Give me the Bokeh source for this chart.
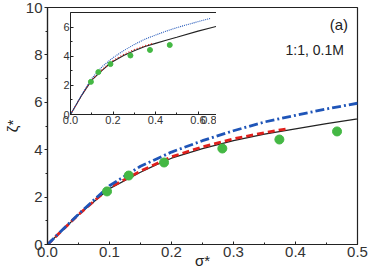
from bokeh.plotting import figure
from bokeh.models import Label, PrintfTickFormatter, FixedTicker, Range1d
from bokeh.layouts import column
from bokeh.embed import file_html
from bokeh.resources import INLINE

# ---- data ----
sigma_black = [0, 0.05, 0.1, 0.15, 0.175, 0.2, 0.25, 0.3, 0.35, 0.4, 0.45, 0.5, 0.6, 0.7, 0.8]
zeta_black = [0, 1.25, 2.36, 3.05, 3.36, 3.64, 4.05, 4.38, 4.66, 4.88, 5.1, 5.3, 5.72, 6.1, 6.45]

sigma_blue = [0, 0.05, 0.1, 0.15, 0.175, 0.2, 0.25, 0.3, 0.35, 0.4, 0.45, 0.5, 0.55, 0.6, 0.66]
zeta_blue = [0, 1.28, 2.48, 3.3, 3.6, 3.9, 4.38, 4.8, 5.17, 5.45, 5.72, 5.96, 6.17, 6.37, 6.6]

sigma_red = [0, 0.05, 0.1, 0.15, 0.2, 0.25, 0.3, 0.35, 0.39]
zeta_red = [0, 1.26, 2.4, 3.1, 3.7, 4.12, 4.46, 4.72, 4.9]

sigma_pts = [0.096, 0.131, 0.188, 0.282, 0.374, 0.467]
zeta_pts = [2.24, 2.91, 3.46, 4.05, 4.43, 4.77]

main_xticks = [0.0, 0.1, 0.2, 0.3, 0.4, 0.5]
main_yticks = [0, 2, 4, 6, 8, 10]
inset_xticks = [0.0, 0.2, 0.4, 0.6, 0.8]
inset_yticks = [0, 2, 4, 6]

FONT = "Liberation Sans"
BLACK = "#222222"
BLUE = "#1f55b8"
RED = "#e0201c"
GREEN = "#44b844"


def style_axes(fig, font_size, xfmt):
    for ax in (fig.xaxis[0], fig.yaxis[0]):
        ax.axis_line_color = BLACK
        ax.major_tick_line_color = BLACK
        ax.minor_tick_line_color = BLACK
        ax.major_label_text_font = FONT
        ax.major_label_text_font_size = font_size
        ax.major_label_text_color = "#333333"
    fig.xaxis[0].formatter = PrintfTickFormatter(format=xfmt)
    fig.yaxis[0].formatter = PrintfTickFormatter(format="%d")


# ---- main figure ----
main = figure(width=368, height=271, x_range=Range1d(0, 0.5), y_range=Range1d(0, 10),
              output_backend="svg", toolbar_location=None,
              x_axis_label="σ*", y_axis_label="ζ*",
              min_border_left=41, min_border_right=10, min_border_top=7, min_border_bottom=27)
main.grid.visible = False
main.outline_line_color = BLACK
main.outline_line_width = 1.2
main.background_fill_color = "white"
style_axes(main, "15px", "%.1f")
for ax in (main.xaxis[0], main.yaxis[0]):
    ax.axis_label_text_font = FONT
    ax.axis_label_text_font_size = "15px"
    ax.axis_label_text_font_style = "normal"
    ax.axis_label_text_color = "#222222"
main.xaxis.axis_label_standoff = -8
main.yaxis.axis_label_standoff = 2
main.xaxis.ticker = FixedTicker(ticks=main_xticks, minor_ticks=[0.05, 0.15, 0.25, 0.35, 0.45])
main.yaxis.ticker = FixedTicker(ticks=main_yticks, minor_ticks=[1, 3, 5, 7, 9])
main.xaxis.major_tick_in = 3
main.xaxis.major_tick_out = 0
main.xaxis.minor_tick_in = 2
main.xaxis.minor_tick_out = 0
main.yaxis.major_tick_in = 0
main.yaxis.major_tick_out = 3
main.yaxis.minor_tick_in = 0
main.yaxis.minor_tick_out = 2
main.xaxis.major_label_standoff = 2
main.yaxis.major_label_standoff = 2
main.axis.axis_line_width = 1.2

main.line(sigma_black, zeta_black, line_color=BLACK, line_width=1.3)
main.line(sigma_red, zeta_red, line_color=RED, line_width=2.8, line_dash="7 4")
main.line(sigma_blue, zeta_blue, line_color=BLUE, line_width=2.8, line_dash="9 3 2 3")
main.scatter(sigma_pts, zeta_pts, size=9, fill_color=GREEN, line_color=GREEN)

main.add_layout(Label(x=0.47, y=9.3, text="(a)", text_font=FONT, text_font_size="15px",
                      text_color="#222222", text_align="center", text_baseline="middle"))
main.add_layout(Label(x=0.478, y=8.2, text="1:1, 0.1M", text_font=FONT, text_font_size="14px",
                      text_color="#222222", text_align="right", text_baseline="middle"))

# ---- inset ----
inset = figure(frame_width=170, frame_height=102, x_range=Range1d(0, 0.8), y_range=Range1d(0, 7),
               output_backend="svg", toolbar_location=None,
               min_border_left=12, min_border_right=11, min_border_top=5, min_border_bottom=14,
               styles={"position": "absolute", "left": "23px", "top": "7px"})
inset.grid.visible = False
inset.outline_line_color = BLACK
inset.outline_line_width = 1
inset.background_fill_color = "white"
inset.border_fill_alpha = 0
style_axes(inset, "11px", "%.1f")
inset.xaxis.ticker = FixedTicker(ticks=inset_xticks, minor_ticks=[0.1, 0.3, 0.5, 0.7])
inset.yaxis.ticker = FixedTicker(ticks=inset_yticks, minor_ticks=[1, 3, 5])
inset.axis.major_tick_in = 3
inset.axis.major_tick_out = 0
inset.axis.minor_tick_in = 2
inset.axis.minor_tick_out = 0
inset.axis.major_label_standoff = 1
inset.axis.axis_line_width = 1

inset.line(sigma_black, zeta_black, line_color=BLACK, line_width=1.1)
inset.line(sigma_red, zeta_red, line_color=RED, line_width=1.2, line_dash="1 2")
inset.line(sigma_blue, zeta_blue, line_color=BLUE, line_width=1.1, line_dash="1 1")
inset.scatter(sigma_pts, zeta_pts, size=5, fill_color=GREEN, line_color=GREEN)

p = column(main, inset)

open("out.html", "w").write(file_html(p, INLINE))
